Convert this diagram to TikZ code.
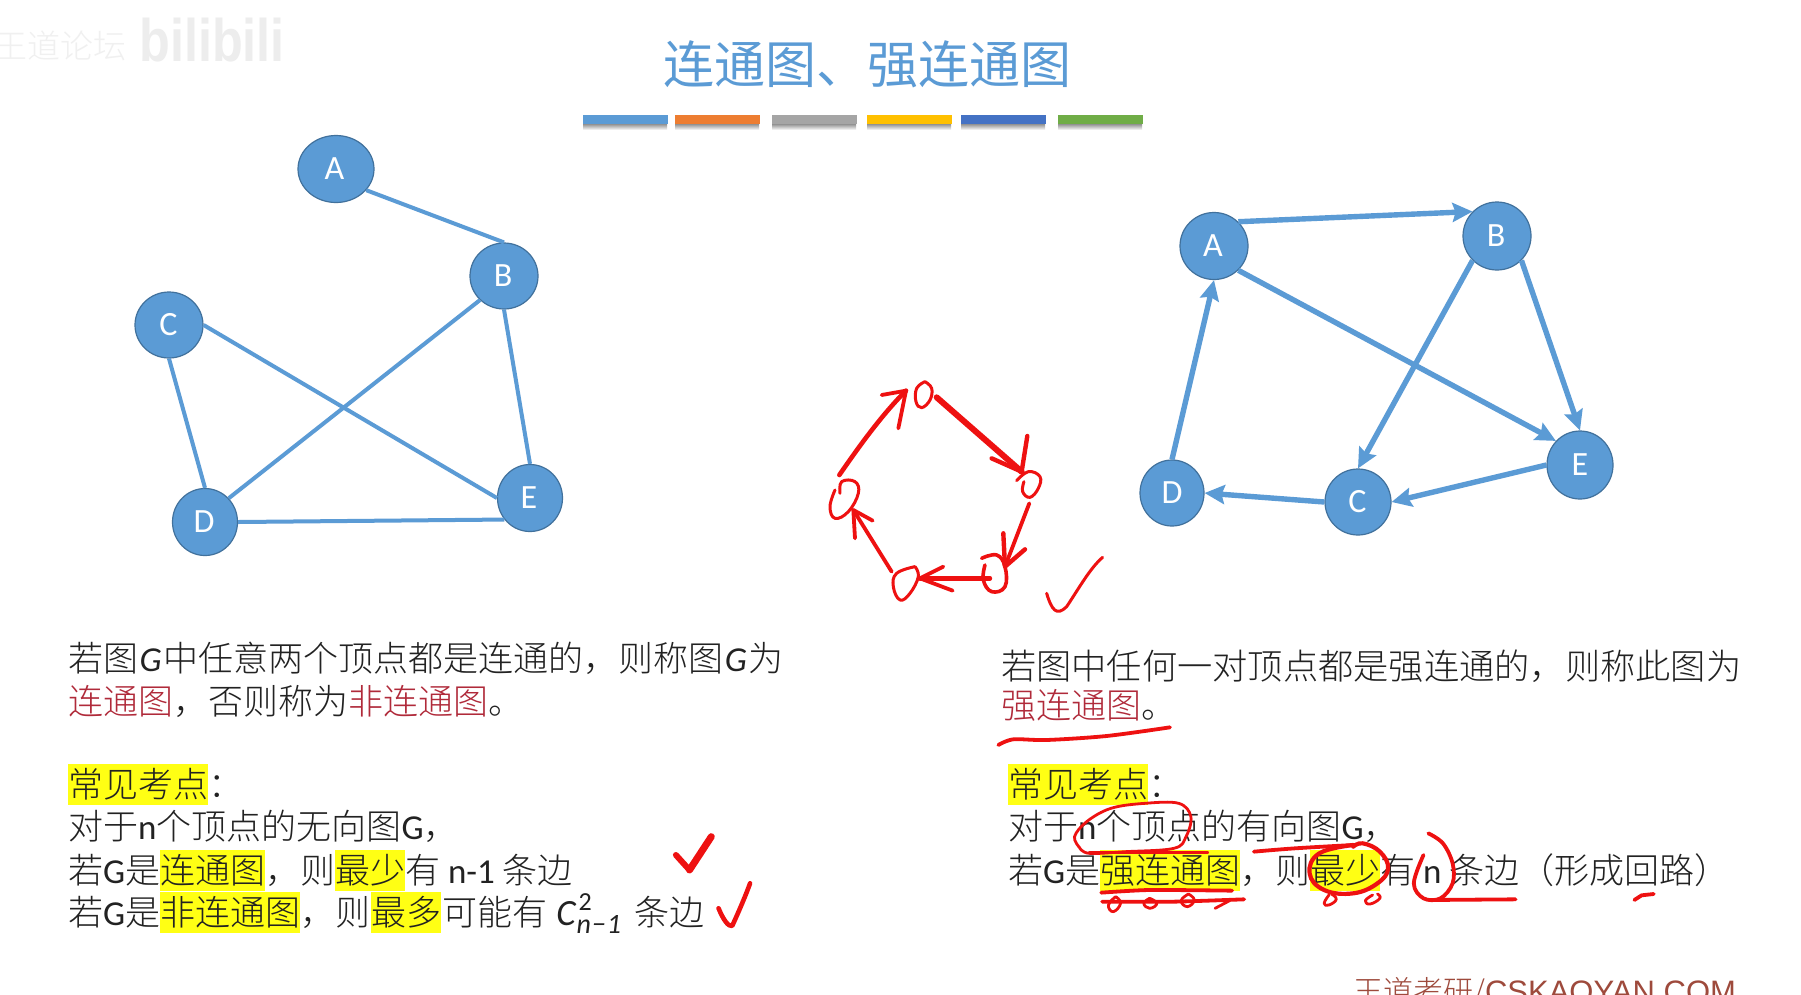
\documentclass[tikz,border=0pt]{standalone}
\usepackage{fontspec}
\usepackage{graphicx}
\setmainfont{Noto Sans CJK SC}[UprightFont={* Light},BoldFont={* Bold}]
\newfontfamily\cjkreg{Noto Sans CJK SC}
\newfontfamily\lat{Carlito}
\newfontfamily\ari{Liberation Sans}
\usetikzlibrary{shapes.geometric,arrows.meta,shadows}
\definecolor{blu}{HTML}{5B9BD5}
\definecolor{blud}{HTML}{41719C}
\definecolor{hy}{HTML}{FFFF14}
\definecolor{txt}{HTML}{222222}
\definecolor{rdt}{HTML}{B02A3A}
\definecolor{pen}{HTML}{EE1111}
\definecolor{foot}{HTML}{9E4A3C}
\newcommand\hl[1]{\setbox0\hbox{#1}\rlap{\textcolor{hy}{\rule[-8pt]{\wd0}{41pt}}}\box0 }
\newcommand\rd[1]{\textcolor{rdt}{#1}}
\newcommand\lG{{\lat G}}
\newcommand\lnn{{\lat n}}
\newcommand\itG{\kern1.5pt{\lat\itshape G}\kern1.5pt}
\tikzset{
 vert/.style={ellipse,draw=blud,line width=1.2pt,fill=blu,text=white,inner sep=0pt,font=\lat\fontsize{34}{36}\selectfont},
 gedge/.style={draw=blu,line width=4pt},
 garc/.style={draw=blu,line width=5.4pt,-{Stealth[length=20pt,width=19pt,inset=3pt]}},
 para/.style={anchor=base west,inner sep=0pt,text=txt,font=\fontsize{35}{40}\selectfont},
 penline/.style={draw=pen,line width=3.8pt,line cap=round,line join=round},
 barbox/.style={minimum height=9pt,minimum width=85pt,inner sep=0pt,draw=none},
}
\begin{document}
\begin{tikzpicture}[x=1pt,y=-1pt]
\useasboundingbox (0,0) rectangle (1801,994);
\fill[white] (0,0) rectangle (1801,994);
% watermark
\node[anchor=east,inner sep=0pt,text=black!6,font=\fontsize{33}{35}\selectfont] (wm1) at (127,46) {王道论坛};
\node[inner sep=0pt,text=black!7,font=\ari\bfseries\fontsize{60}{62}\selectfont,xscale=.84] (wm2) at (212,40) {bilibili};
% title
\node[inner sep=0pt,anchor=base,text=blu,font=\cjkreg\fontsize{51}{54}\selectfont] (title) at (867,83) {连通图、强连通图};
\foreach \n/\xc/\c in {b1/625/5B9BD5,b2/717/ED7D31,b3/814/A5A5A5,b4/909/FFC000,b5/1003/4472C4,b6/1100/70AD47}{
  \definecolor{bc}{HTML}{\c}
  \shade[top color=black!50,bottom color=white] (\xc-42,123) rectangle (\xc+42,130);
  \node[barbox,fill=bc] (\n) at (\xc,119.5) {};
}
% left graph
\node[vert,minimum width=76pt,minimum height=67pt] (LA) at (336,169) {A\kern3pt};
\node[vert,minimum width=68pt,minimum height=66pt] (LB) at (504,276) {B\kern2pt};
\node[vert,minimum width=68pt,minimum height=66pt] (LC) at (169,325) {C\kern1pt};
\node[vert,minimum width=65pt,minimum height=67pt] (LD) at (205,522) {D\kern2pt};
\node[vert,minimum width=65pt,minimum height=67pt] (LE) at (530,498) {E\kern2pt};
\draw[gedge] (LA.-35) -- (LB.90);
\draw[gedge] (LC.0) -- (LE.180);
\draw[gedge] (LC.-90) -- (LD.90);
\draw[gedge] (LD.45) -- (LB.-135);
\draw[gedge] (LB.-90) -- (LE.90);
\draw[gedge] (LD.0) -- (LE.-140);
% right graph
\node[vert,minimum width=68pt,minimum height=67pt] (RA) at (1214,246) {A\kern2pt};
\node[vert,minimum width=68pt,minimum height=68pt] (RB) at (1497,236) {B\kern2pt};
\node[vert,minimum width=66pt,minimum height=66pt] (RC) at (1358,502) {C\kern1pt};
\node[vert,minimum width=64pt,minimum height=66pt] (RD) at (1172,493) {D};
\node[vert,minimum width=66pt,minimum height=68pt] (RE) at (1580,465) {E};
\draw[garc] (RA.45) -- (RB.135);
\draw[garc] (RA.-45) -- (RE.135);
\draw[garc] (RB.-135) -- (RC.90);
\draw[garc] (RB.-45) -- (RE.90);
\draw[garc] (RE.180) -- (RC.0);
\draw[garc] (RC.180) -- (RD.0);
\draw[garc] (RD.90) -- (RA.-90);
% left text
\node[para] (l1) at (68,671) {若图\itG 中任意两个顶点都是连通的，则称图\itG 为};
\node[para] (l2) at (68,714) {\rd{连通图}，否则称为\rd{非连通图}。};
\node[para] (l3) at (68,797) {\hl{常见考点}：};
\node[para] (l4) at (68,839) {对于\lnn 个顶点的无向图\lG，};
\node[para] (l5) at (68,883) {若\lG 是\hl{连通图}，则\hl{最少}有 {\lat n-1} 条边};
\node[para] (l6) at (68,925) {若\lG 是\hl{非连通图}，则\kern1pt\hl{最多}\kern1pt可能有\kern9pt{\lat\itshape\fontsize{37}{40}\selectfont C}\rlap{\raisebox{15pt}{\lat\fontsize{26}{28}\selectfont\kern3pt 2}}\raisebox{-8pt}{\lat\itshape\fontsize{28}{30}\selectfont\kern1pt n\kern1pt−\kern1pt1}\kern13pt 条边};
% right text
\node[para,font=\fontsize{35.25}{40}\selectfont] (r1) at (1001,679) {若图中任何一对顶点都是强连通的，则称此图为};
\node[para] (r2) at (1001,718) {\rd{强连通图}。};
\node[para] (r3) at (1008,797) {\hl{常见考点}：};
\node[para] (r4) at (1008,839) {对于\lnn 个顶点的有向图\lG，};
\node[para] (r5) at (1008,883) {若\lG 是\hl{强连通图}，则\hl{最少}有 \lnn{} 条边（形成回路）};
% footer
\node[anchor=base west,inner sep=0pt,text=foot,font=\fontsize{30}{32}\selectfont] (foot) at (1353,1002) {王道考研/{\ari\fontsize{31}{32}\selectfont CSKAOYAN.COM}};
% pen: cycle (zoom coordinates 3x from 800,360)
\begin{scope}[xshift=800pt,yshift=-360pt,x=.3333pt,y=-.3333pt]
\draw[penline,line width=3pt] plot[smooth,tension=.7] coordinates {(375,65)(395,85)(390,120)(365,143)(348,125)(350,85)(375,65)};
\draw[penline,line width=3pt] plot[smooth,tension=.7] coordinates {(650,362)(685,335)(720,350)(715,385)(690,412)(668,395)(672,365)};
\draw[penline,line width=3.6pt] plot[smooth,tension=.7] coordinates {(545,595)(590,585)(615,620)(615,680)(575,695)(550,660)(555,615)};
\draw[penline,line width=3pt] plot[smooth,tension=.7] coordinates {(345,620)(355,650)(330,700)(300,720)(280,680)(290,640)(345,620)};
\draw[penline,line width=3pt] plot[smooth,tension=.7] coordinates {(120,400)(125,365)(165,365)(175,400)(145,455)(105,475)(90,440)(105,390)};
\draw[penline,line width=4.6pt] (118,345) .. controls (170,270) and (240,170) .. (318,92);
\draw[penline] (245,105) -- (318,92) -- (295,205);
\draw[penline,line width=6pt] (410,112) -- (665,335);
\draw[penline,line width=4.4pt] (575,295) -- (665,335) -- (682,228);
\draw[penline] (688,430) -- (615,620);
\draw[penline,line width=4.4pt] (610,520) -- (615,620) -- (675,568);
\draw[penline,line width=4.4pt] (570,655) -- (360,655);
\draw[penline] (430,620) -- (360,655) -- (458,692);
\draw[penline] (275,635) -- (160,450);
\draw[penline] (165,535) -- (160,450) -- (218,482);
\draw[penline,line width=3pt] (740,700) .. controls (755,750) and (770,770) .. (800,740) .. controls (840,680) and (870,625) .. (908,592);
\end{scope}
% pen: underline of right definition
\begin{scope}[xshift=980pt,yshift=-630pt,x=.3333pt,y=-.3333pt]
\draw[penline] plot[smooth,tension=.5] coordinates {(55,345)(100,328)(200,330)(380,318)(570,292)};
\end{scope}
% pen: right notes
\begin{scope}[xshift=980pt,yshift=-740pt,x=.4847pt,y=-.3333pt]
\draw[penline,line width=2.8pt] plot[smooth,tension=.6] coordinates {(205,322)(195,290)(220,245)(270,205)(340,190)(410,190)(435,230)(425,290)(400,325)(300,335)(225,340)(205,322)};
\draw[penline,line width=2.8pt] (225,338) -- (470,338);
\draw[penline] plot[smooth,tension=.6] coordinates {(565,335)(650,325)(770,315)};
\draw[penline,line width=4.2pt] plot[smooth,tension=.7] coordinates {(770,320)(790,310)(825,335)(842,385)(820,430)(770,460)(710,450)(680,400)(700,340)(770,315)};
\draw[penline,line width=2.8pt] plot[smooth,tension=.8] coordinates {(725,462)(735,478)(720,495)(710,490)(720,465)};
\draw[penline,line width=2.8pt] plot[smooth,tension=.8] coordinates {(820,462)(825,475)(805,492)(795,482)(810,465)};
\draw[penline] plot[smooth,tension=.6] coordinates {(925,280)(955,310)(975,370)(975,430)(950,475)(915,475)(895,430)(915,345)};
\draw[penline] (930,480) -- (1105,478);
\draw[penline] plot[smooth,tension=.4] coordinates {(250,458)(350,450)(520,452)};
\draw[penline] plot[smooth,tension=.4] coordinates {(252,485)(400,485)(545,478)};
\draw[penline,line width=2.8pt] plot[smooth,tension=.8] coordinates {(280,470)(290,490)(275,515)(265,495)(280,470)};
\draw[penline,line width=2.8pt] plot[smooth,tension=.8] coordinates {(350,475)(365,490)(350,505)(338,490)(350,475)};
\draw[penline,line width=2.8pt] plot[smooth,tension=.8] coordinates {(430,462)(442,480)(428,500)(415,482)(430,462)};
\draw[penline,line width=2.8pt] (485,505) -- (515,482);
\draw[penline] (1350,480) -- (1365,466) -- (1390,462);
\end{scope}
% pen: left checks
\begin{scope}[xshift=40pt,yshift=-740pt,x=.4847pt,y=-.3333pt]
\draw[penline,line width=6pt] (1312,345) -- (1340,390);
\draw[penline,line width=7pt] (1340,390) -- (1385,290);
\draw[penline,line width=4.6pt] (1400,505) .. controls (1410,540) and (1420,560) .. (1428,558) .. controls (1440,520) and (1455,470) .. (1465,430);
\end{scope}
\end{tikzpicture}
\end{document}
